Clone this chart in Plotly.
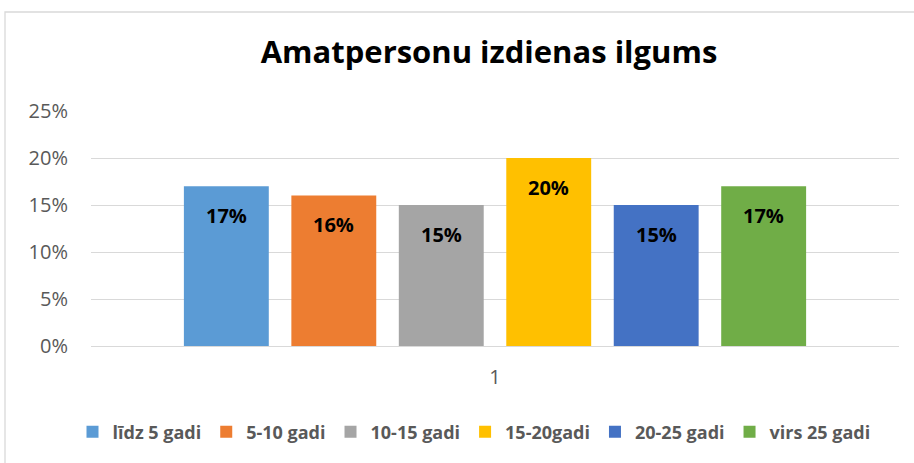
import plotly.graph_objects as go

categories = ["1"]
series_names = ["līdz 5 gadi", "5-10 gadi", "10-15 gadi", "15-20gadi", "20-25 gadi", "virs 25 gadi"]
series_values = [0.17, 0.16, 0.15, 0.20, 0.15, 0.17]
series_colors = ["#5B9BD5", "#ED7D31", "#A5A5A5", "#FFC000", "#4472C4", "#70AD47"]
y_ticks = [0, 0.05, 0.10, 0.15, 0.20, 0.25]
y_tick_labels = ["0%", "5%", "10%", "15%", "20%", "25%"]
title_text = "Amatpersonu izdienas ilgums"

FONT = "Open Sans"
W, H = 914, 463
ml, mr, mt, mb = 91, 15, 111, 117
BARGAP, BARGROUPGAP = 0.202, 0.21

pw = W - ml - mr
ph = H - mt - mb
n = len(series_names)
slot = pw * (1 - BARGAP) / n
cat_index = categories.index(categories[0])

fig = go.Figure()
for i, (name, val, col) in enumerate(zip(series_names, series_values, series_colors)):
    fig.add_trace(go.Bar(
        x=categories, y=[val], name=name,
        marker=dict(color=col, line=dict(width=0)),
        hoverinfo="skip",
    ))
    fig.add_annotation(
        x=cat_index, y=val, xref="x", yref="y",
        text=f"{val:.0%}", showarrow=False,
        xshift=(i - (n - 1) / 2) * slot, yshift=-29, yanchor="middle",
        font=dict(family=FONT, size=20, color="#000000", weight="bold"),
    )

fig.add_shape(type="rect", xref="paper", yref="paper",
              x0=(5 - ml) / pw, x1=(W + 20 - ml) / pw,
              y0=-(H + 20 - mt - ph) / ph, y1=(H - 12 - mb) / ph,
              line=dict(color="#D9D9D9", width=1.3), fillcolor="rgba(0,0,0,0)", layer="below")

fig.update_layout(
    width=W, height=H,
    margin=dict(l=ml, r=mr, t=mt, b=mb, pad=0, autoexpand=False),
    paper_bgcolor="white", plot_bgcolor="white",
    barmode="group", bargap=BARGAP, bargroupgap=BARGROUPGAP,
    title=dict(text=title_text, x=489 / W, xanchor="center", y=1 - 52 / H, yanchor="middle",
               font=dict(family=FONT, size=31, color="#000000", weight="bold")),
    font=dict(family=FONT, color="#595959"),
    showlegend=True,
    legend=dict(orientation="h", x=(474 - ml) / pw, xanchor="center",
                y=-(432 - (H - mb)) / ph, yanchor="middle",
                font=dict(family=FONT, size=18, color="#595959", weight="bold"),
                itemwidth=30, traceorder="normal", itemclick=False),
    yaxis=dict(range=[0, 0.25], tickvals=y_ticks, ticktext=y_tick_labels,
               showgrid=True, gridcolor="#D9D9D9", gridwidth=1,
               zeroline=False, showline=False,
               ticks="outside", ticklen=18, tickcolor="rgba(0,0,0,0)",
               tickfont=dict(family=FONT, size=20, color="#595959")),
    xaxis=dict(type="category", showgrid=False, showline=True, linecolor="#D9D9D9", linewidth=1,
               ticks="outside", ticklen=13, tickcolor="rgba(0,0,0,0)",
               tickfont=dict(family=FONT, size=20, color="#595959")),
)

fig.write_html("out.html", post_script="document.body.style.margin='0px';",
               config={"displayModeBar": False})
